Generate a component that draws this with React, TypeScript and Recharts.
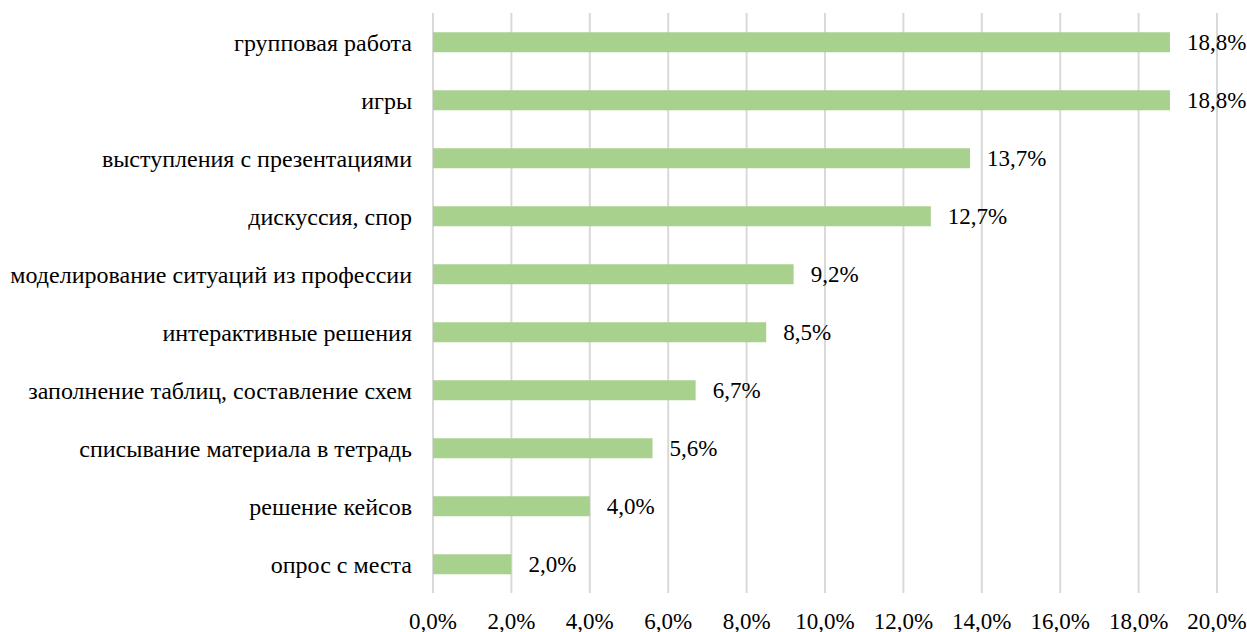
import { BarChart, Bar, XAxis, YAxis, CartesianGrid, LabelList } from "recharts";

// Формы работы на занятиях, доля ответов (%)
const categories = [
  "групповая работа",
  "игры",
  "выступления с презентациями",
  "дискуссия, спор",
  "моделирование ситуаций из профессии",
  "интерактивные решения",
  "заполнение таблиц, составление схем",
  "списывание материала в тетрадь",
  "решение кейсов",
  "опрос с места",
];
const shares = [18.8, 18.8, 13.7, 12.7, 9.2, 8.5, 6.7, 5.6, 4.0, 2.0];
const xTicks = [0, 2, 4, 6, 8, 10, 12, 14, 16, 18, 20];

const data = categories.map((name, i) => ({ name, value: shares[i] }));

const fmt = (v: any) => `${Number(v).toFixed(1).replace(".", ",")}%`;

const FONT = "Liberation Serif";

const App = () => {
  return (
    <div style={{ position: "absolute", left: 0, top: 0, width: 1247, height: 632, background: "#fff" }}>
      <BarChart
        width={1247}
        height={632}
        data={data}
        layout="vertical"
        margin={{ top: 13, right: 30, bottom: 0, left: 0 }}
        barCategoryGap="33%"
      >
        <CartesianGrid horizontal={false} stroke="#d9d9d9" strokeWidth={2} />
        <XAxis
          type="number"
          domain={[0, 20]}
          ticks={xTicks}
          tickFormatter={fmt}
          axisLine={false}
          tickLine={false}
          tickSize={0}
          tickMargin={20}
          height={39}
          interval={0}
          tick={{ fill: "#000", fontSize: 23, fontFamily: FONT }}
        />
        <YAxis
          type="category"
          dataKey="name"
          width={433}
          axisLine={false}
          tickLine={false}
          tickSize={0}
          tickMargin={21}
          interval={0}
          tick={{ fill: "#000", fontSize: 24, fontFamily: FONT }}
        />
        <Bar dataKey="value" fill="#A9D18E" isAnimationActive={false}>
          <LabelList
            dataKey="value"
            position="right"
            offset={17}
            formatter={fmt}
            fill="#000"
            fontSize={23}
            fontFamily={FONT}
          />
        </Bar>
      </BarChart>
    </div>
  );
};

export default App;
